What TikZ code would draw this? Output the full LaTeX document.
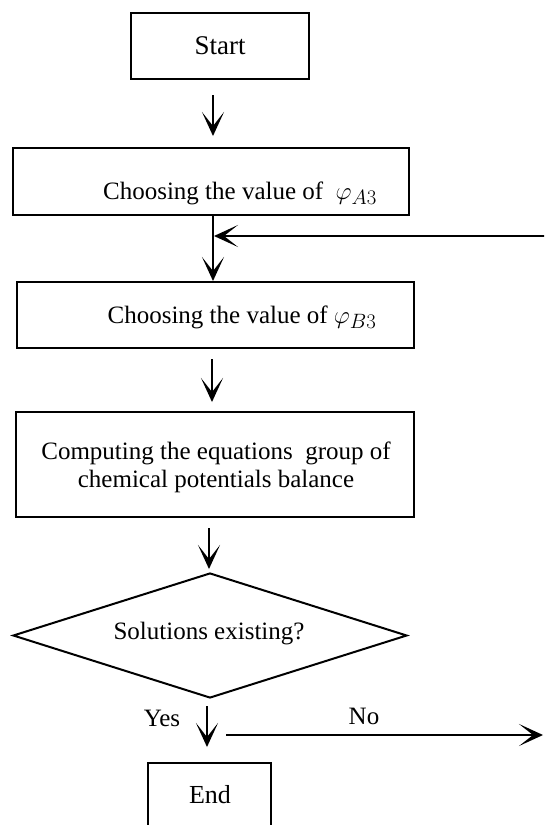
\documentclass[tikz,border=0pt]{standalone}
\usepackage{fontspec}
\setmainfont{Liberation Serif}
\usetikzlibrary{arrows.meta,shapes.geometric}
\tikzset{
  box/.style={draw, line width=2pt, rectangle, inner sep=0pt},
  txt/.style={inner sep=0pt, align=center, font=\fontsize{25}{28}\selectfont},
  arr/.style={line width=1.8pt, -{Stealth[length=24pt,width=22pt,inset=14pt]}},
  dia/.style={draw, line width=2pt, diamond, aspect=3.15, inner sep=0pt}
}
\newcommand{\bigphi}[1]{{\fontsize{31}{31}\selectfont$\varphi_{#1}$}}
\begin{document}
\begin{tikzpicture}[x=1pt,y=-1pt]
\useasboundingbox (0,0) rectangle (544,825);
\clip (0,0) rectangle (544,825);
% boxes
\node[box, minimum width=178pt, minimum height=66pt] (s) at (220,46) {};
\node[txt, font=\fontsize{27}{30}\selectfont] (st) at (220,46) {Start};
\node[box, minimum width=396pt, minimum height=67pt] (b2) at (211,181.5) {};
\node[txt] (t2) at (240,193) {Choosing the value of \ \bigphi{A3}};
\node[box, minimum width=397pt, minimum height=66pt] (b3) at (215.5,315) {};
\node[txt] (t3) at (242,317) {Choosing the value of \bigphi{B3}};
\node[box, minimum width=398pt, minimum height=105pt] (b4) at (215,464.5) {};
\node[txt] (t4) at (216,467) {Computing the equations \ group of\\chemical potentials balance};
\node[dia, minimum width=394pt, minimum height=125pt] (d) at (210,635.5) {};
\node[txt] (td) at (209,634) {Solutions existing?};
\node[box, minimum width=123pt, minimum height=68pt] (e) at (209.5,797) {};
\node[txt, font=\fontsize{26}{28}\selectfont] (te) at (210,795) {End};
\node[txt] (yes) at (162,718) {Yes};
\node[txt] (no) at (364,716) {No};
% helper coordinates
\coordinate (x1) at (213,0);
\coordinate (x3) at (212,0);
\coordinate (x4) at (209,0);
\coordinate (x5) at (207,0);
\coordinate (fbin) at (545,236);
\coordinate (fbj) at (213,236);
\coordinate (nos) at (226,735);
\coordinate (noe) at (544,735);
% connectors
\draw[arr, shorten <=15pt, shorten >=11pt] (s.south -| x1) -- (b2.north -| x1);
\draw[arr] (b2.south -| x1) -- (b3.north -| x1);
\draw[arr, shorten >=1pt] (fbin) -- (fbj);
\draw[arr, shorten <=10pt, shorten >=9pt] (b3.south -| x3) -- (b4.north -| x3);
\draw[arr, shorten <=10pt, shorten >=3pt] (b4.south -| x4) -- (d.north -| x4);
\draw[arr, shorten <=7pt, shorten >=15pt] (d.south -| x5) -- (e.north -| x5);
\draw[arr, shorten >=1pt] (nos) -- (noe);
\end{tikzpicture}
\end{document}
